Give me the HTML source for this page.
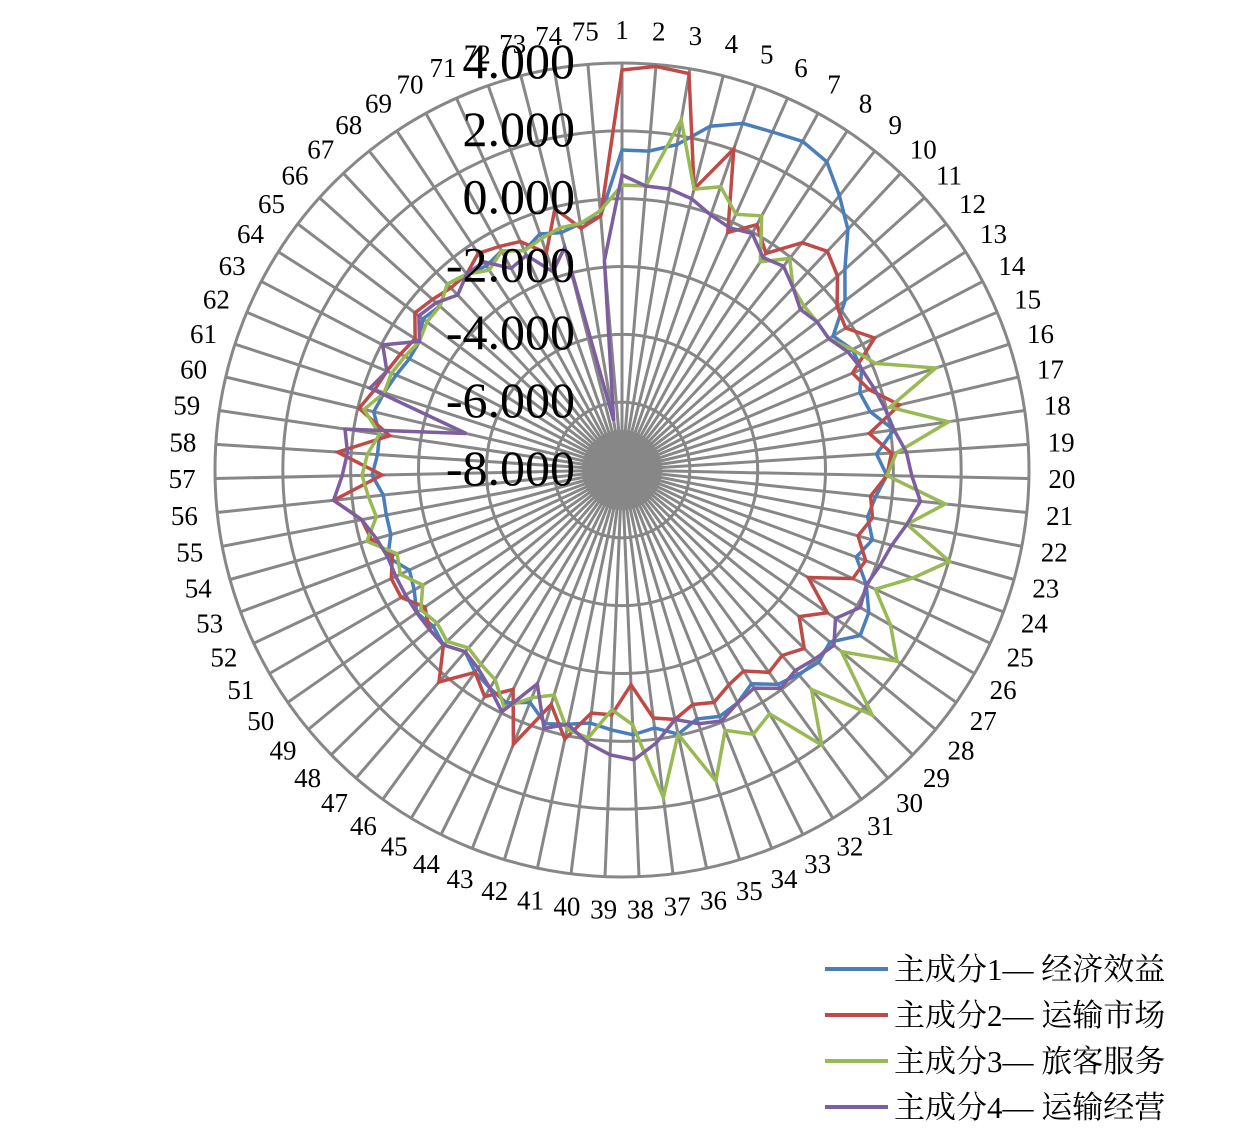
<!DOCTYPE html>
<html><head><meta charset="utf-8">
<style>
html,body{margin:0;padding:0;background:#fff;}
svg{display:block;}
</style></head>
<body>
<svg id="s" width="1260" height="1140" xmlns="http://www.w3.org/2000/svg"></svg>
<script>
var cx=622,cy=470,R=407,N=75;
var s=document.getElementById('s');
var h='';
function pt(i,r){var a=i*2*Math.PI/N;return [cx+r*Math.sin(a),cy-r*Math.cos(a)];}
for(var k=1;k<=6;k++){h+='<circle cx="'+cx+'" cy="'+cy+'" r="'+(R*k/6)+'" fill="none" stroke="#878787" stroke-width="3"/>';}
for(var i=0;i<N;i++){var p=pt(i,R);h+='<line x1="'+cx+'" y1="'+cy+'" x2="'+p[0].toFixed(1)+'" y2="'+p[1].toFixed(1)+'" stroke="#878787" stroke-width="3"/>';}
h+='<circle cx="'+cx+'" cy="'+cy+'" r="40" fill="#878787"/>';
var B=[320,320,330,355,367,370,375,370,350,330,300,280,250,260,260,250,255,275,255,265,255,250,260,250,270,285,290,270,275,270,265,250,260,265,260,270,260,265,260,255,260,265,250,260,255,250,240,250,245,250,240,235,250,240,240,240,250,245,245,255,250,245,240,240,250,245,255,250,245,250,240,250,245,250,255];
var Rd=[400,405,402,290,340,260,280,260,290,300,290,270,265,285,250,260,285,250,270,265,250,255,245,260,255,215,250,230,255,245,250,235,240,250,245,255,250,215,245,245,275,245,295,245,265,250,280,250,250,240,255,255,245,260,265,290,240,285,235,270,260,255,250,245,260,255,250,250,260,255,250,230,270,245,255];
var G=[285,285,355,290,300,280,290,250,270,250,245,245,245,260,275,330,275,330,275,265,325,290,340,310,280,310,335,285,350,290,340,285,295,280,325,270,330,255,240,270,265,235,245,265,245,240,235,245,240,245,230,245,240,265,250,255,260,255,245,265,250,250,245,240,245,245,255,250,240,250,240,245,250,250,260];
var P=[295,285,285,280,270,265,270,255,260,250,240,245,245,255,260,265,270,275,285,290,300,290,280,275,270,275,260,275,270,265,270,255,260,270,265,255,275,290,285,275,260,270,230,270,255,245,240,250,250,250,250,250,250,255,265,290,280,275,280,160,265,255,270,240,255,250,240,250,250,230,235,210,230,50,210];
function poly(d,c){var a=[];for(var i=0;i<N;i++){var p=pt(i,d[i]);a.push(p[0].toFixed(1)+','+p[1].toFixed(1));}
return '<polygon points="'+a.join(' ')+'" fill="none" stroke="'+c+'" stroke-width="3.5" stroke-linejoin="miter"/>';}
h+=poly(B,'#4a7ebb')+poly(Rd,'#be4b48')+poly(G,'#98b954')+poly(P,'#7d5fa0');
var vl=['4.000','2.000','0.000','-2.000','-4.000','-6.000','-8.000'];
for(var k=0;k<7;k++){h+='<text x="575" y="'+(78+k*67.8)+'" text-anchor="end" font-family="Liberation Serif,serif" font-size="50">'+vl[k]+'</text>';}
for(var i=0;i<N;i++){var p=pt(i,440);h+='<text x="'+p[0].toFixed(1)+'" y="'+(p[1]+9).toFixed(1)+'" text-anchor="middle" font-family="Liberation Serif,serif" font-size="27">'+(i+1)+'</text>';}
var L=[['#4a7ebb','主成分1— 经济效益'],['#be4b48','主成分2— 运输市场'],['#98b954','主成分3— 旅客服务'],['#7d5fa0','主成分4— 运输经营']];
for(var k=0;k<4;k++){var y=969+k*46;h+='<line x1="825" y1="'+y+'" x2="888" y2="'+y+'" stroke="'+L[k][0]+'" stroke-width="4"/>';
h+='<text x="894" y="'+(y+11)+'" font-family="Liberation Serif,Noto Serif CJK SC,serif" font-size="31">'+L[k][1]+'</text>';}
s.innerHTML=h;
</script>
</body></html>
